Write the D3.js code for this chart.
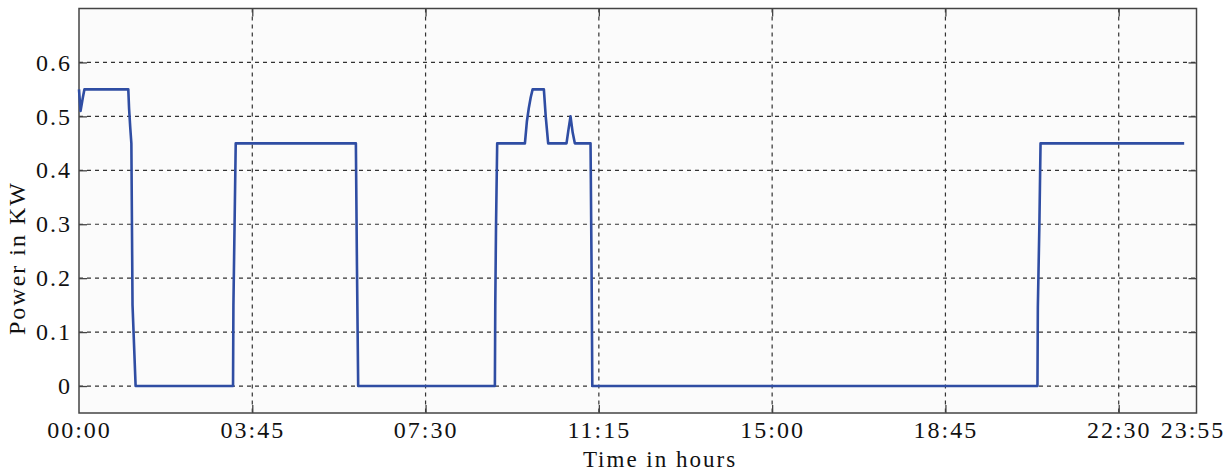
<!DOCTYPE html>
<html>
<head>
<meta charset="utf-8">
<script src="https://cdn.jsdelivr.net/npm/d3@7"></script>
<style>
  body { margin: 0; background: #ffffff; }
  svg { display: block; }
  .tick text { font-family: "Liberation Serif", "Times New Roman", serif; }
</style>
</head>
<body>
<div class="powerChart"></div>
<script>
// time of day in minutes, power in kW
var minutes = [0, 2, 5, 7, 64, 65, 66.5, 68, 69.5, 73.5,
  200, 200.5, 202, 203.5, 359.5, 360.9, 362.5,
  540, 540.5, 541.5, 543, 579, 581.5, 584, 586.5, 589,
  603.6, 606, 609.2, 633, 635.5, 638.2, 641, 643.8,
  664.2, 665.5, 666.5, 1244.5, 1245, 1247, 1248.5, 1435];
var power = [0.55, 0.51, 0.535, 0.55, 0.55, 0.515, 0.48, 0.45, 0.15, 0,
  0, 0.15, 0.3, 0.45, 0.45, 0.224, 0,
  0, 0.15, 0.3, 0.45, 0.45, 0.49, 0.515, 0.535, 0.55,
  0.55, 0.5, 0.45, 0.45, 0.475, 0.5, 0.47, 0.45,
  0.45, 0.224, 0, 0, 0.147, 0.3, 0.45, 0.45];

var xTickValues = [0, 225, 450, 675, 900, 1125, 1350, 1451];
var xTickLabels = ["00:00", "03:45", "07:30", "11:15", "15:00", "18:45", "22:30", "23:55"];
var yTickValues = [0, 0.1, 0.2, 0.3, 0.4, 0.5, 0.6];

var width = 1225, height = 472;
var margin = {top: 8.5, right: 28.5, bottom: 59, left: 79};
var w = width - margin.left - margin.right;
var h = height - margin.top - margin.bottom;

var svg = d3.select(".powerChart").append("svg")
    .attr("width", width)
    .attr("height", height);

var g = svg.append("g")
    .attr("transform", "translate(" + margin.left + "," + margin.top + ")");

var x = d3.scaleLinear().domain([0, 1451]).range([0, w]);
var y = d3.scaleLinear().domain([-0.05, 0.7]).range([h, 0]);

g.append("rect")
    .attr("width", w)
    .attr("height", h)
    .attr("fill", "#fbfbfb");

// dashed grid
g.selectAll(".vgrid")
    .data(xTickValues.slice(1, -1))
    .enter().append("line")
    .attr("x1", function(d) { return x(d); })
    .attr("x2", function(d) { return x(d); })
    .attr("y1", 0)
    .attr("y2", h)
    .attr("stroke", "#333")
    .attr("stroke-width", 1.2)
    .attr("stroke-dasharray", "4,4");

g.selectAll(".hgrid")
    .data(yTickValues)
    .enter().append("line")
    .attr("x1", 0)
    .attr("x2", w)
    .attr("y1", function(d) { return y(d); })
    .attr("y2", function(d) { return y(d); })
    .attr("stroke", "#333")
    .attr("stroke-width", 1.2)
    .attr("stroke-dasharray", "4,4");

// axes with inward ticks
var xAxis = d3.axisBottom(x)
    .tickValues(xTickValues)
    .tickFormat(function(d, i) { return xTickLabels[i]; })
    .tickSizeInner(-8)
    .tickSizeOuter(0)
    .tickPadding(8);

var yAxis = d3.axisLeft(y)
    .tickValues(yTickValues)
    .tickFormat(function(d) { return d === 0 ? "0" : d3.format(".1f")(d); })
    .tickSizeInner(-8)
    .tickSizeOuter(0)
    .tickPadding(7);

var xg = g.append("g")
    .attr("transform", "translate(0," + h + ")")
    .call(xAxis);

var yg = g.append("g").call(yAxis);

g.append("g")
    .attr("transform", "translate(" + w + ",0)")
    .call(d3.axisRight(y).tickValues(yTickValues).tickFormat("").tickSizeInner(-8).tickSizeOuter(0));

g.append("g")
    .call(d3.axisTop(x).tickValues(xTickValues.slice(1, -1)).tickFormat("").tickSizeInner(-8).tickSizeOuter(0));

g.selectAll(".domain").remove();
g.selectAll(".tick line").attr("stroke", "#444").attr("stroke-width", 1.3);
g.selectAll(".tick text")
    .attr("fill", "#111")
    .style("font-size", "24px")
    .style("letter-spacing", "2px");

xg.selectAll(".tick").filter(function(d, i) { return i === xTickValues.length - 1; })
    .select("text").attr("dx", "-4");
xg.selectAll(".tick").filter(function(d, i) { return i === 0 || i === xTickValues.length - 1; })
    .select("line").remove();

// frame
g.append("rect")
    .attr("width", w)
    .attr("height", h)
    .attr("fill", "none")
    .attr("stroke", "#444")
    .attr("stroke-width", 1.5);

// power line
var pts = minutes.map(function(t, i) { return [t, power[i]]; });
g.append("path")
    .datum(pts)
    .attr("fill", "none")
    .attr("stroke", "#2f4da3")
    .attr("stroke-width", 2.6)
    .attr("stroke-linejoin", "round")
    .attr("d", d3.line()
        .x(function(d) { return x(d[0]); })
        .y(function(d) { return y(d[1]); }));

// axis titles
svg.append("text")
    .attr("x", 660)
    .attr("y", 467)
    .attr("text-anchor", "middle")
    .attr("font-family", "Liberation Serif, Times New Roman, serif")
    .attr("font-size", "23px")
    .style("letter-spacing", "2px")
    .attr("fill", "#111")
    .text("Time in hours");

svg.append("text")
    .attr("transform", "translate(25," + 258 + ") rotate(-90)")
    .attr("text-anchor", "middle")
    .attr("font-family", "Liberation Serif, Times New Roman, serif")
    .attr("font-size", "24px")
    .style("letter-spacing", "2px")
    .attr("fill", "#111")
    .text("Power in KW");
</script>
</body>
</html>
